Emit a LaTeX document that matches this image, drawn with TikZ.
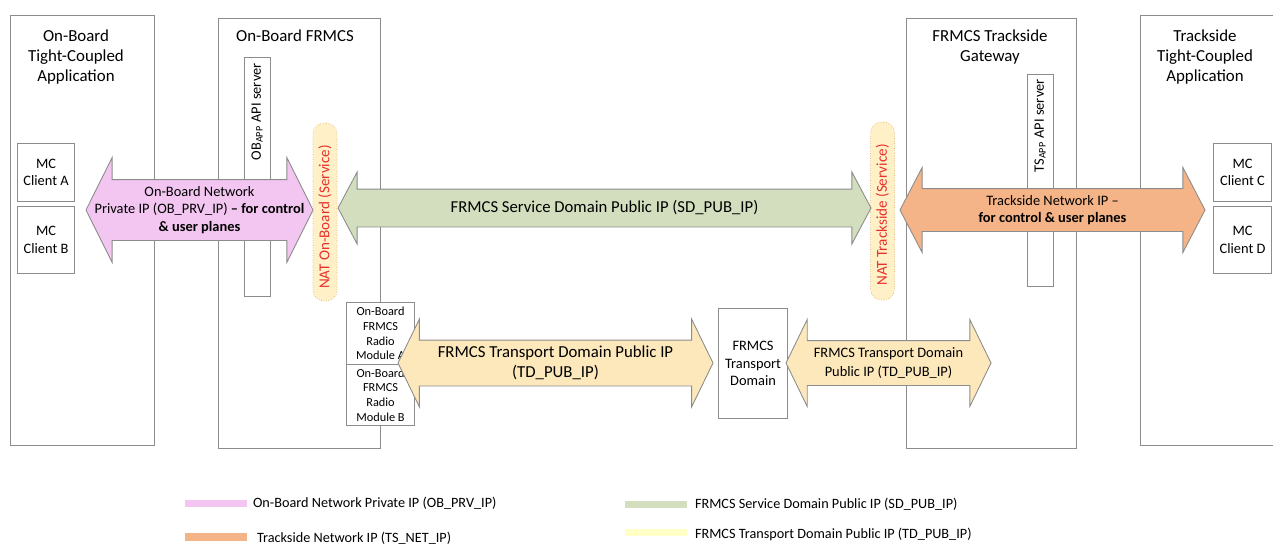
\documentclass[tikz,border=0pt]{standalone}
\usepackage{fontspec}
\setmainfont{Carlito}
\usetikzlibrary{shapes.arrows,positioning}

\definecolor{linegray}{HTML}{8C8C8C}
\definecolor{pinkip}{HTML}{F2C6F0}
\definecolor{greenip}{HTML}{D3DEBE}
\definecolor{orangeip}{HTML}{F5B487}
\definecolor{tanip}{HTML}{FDE8BC}
\definecolor{yellowip}{HTML}{FFFFC6}
\definecolor{natfill}{HTML}{FFF0C8}
\definecolor{natline}{HTML}{D9B870}
\definecolor{natred}{HTML}{E8302A}
\newcommand{\px}{0.02cm}

\begin{document}
\begin{tikzpicture}[x=0.02cm, y=-0.02cm,
  frame/.style={draw=linegray, line width=0.6pt, fill=white, anchor=north west, inner sep=0pt},
  title/.style={font=\fontsize{9.6}{11.6}\selectfont, align=center, anchor=north, inner sep=0pt},
  client/.style={frame, font=\fontsize{8.2}{10}\selectfont, align=center},
  module/.style={frame, font=\fontsize{7}{8.4}\selectfont, align=center},
  vtext/.style={font=\fontsize{8.2}{10}\selectfont, rotate=90, anchor=east, inner sep=0pt},
  nat/.style={draw=natline, densely dotted, fill=natfill, rounded corners=11*\px, inner sep=0pt, minimum width=24*\px, minimum height=178*\px},
  natlabel/.style={font=\fontsize{8.6}{10}\selectfont, text=natred, rotate=90, inner sep=0pt},
  ip/.style={double arrow, draw=linegray, line width=0.5pt, double arrow head indent=0pt, inner xsep=0pt, minimum width=0pt},
  iptext/.style 2 args={font=\fontsize{#1}{#2}\selectfont, align=center, inner sep=0pt},
  swatch/.style={inner sep=0pt, minimum width=62*\px, minimum height=7*\px, anchor=west},
  legtext/.style={font=\fontsize{8.1}{9}\selectfont, anchor=west, inner sep=0pt}]

\useasboundingbox (0,0) rectangle (1273,545);

% big boxes
\node[frame, minimum width=144*\px, minimum height=430*\px] (obapp) at (10,15) {};
\node[frame, minimum width=162*\px, minimum height=430*\px] (obfrmcs) at (218,18) {};
\node[frame, minimum width=170*\px, minimum height=430*\px] (tsgw) at (906,18) {};
\node[frame, minimum width=150*\px, minimum height=430*\px] (tsapp) at (1140,15) {};

\node[title] at (76,29) {On-Board\\Tight-Coupled\\Application};
\node[title] at (295,29) {On-Board FRMCS};
\node[title] at (990,29) {FRMCS Trackside\\Gateway};
\node[title] at (1205,29) {Trackside\\Tight-Coupled\\Application};

% clients
\node[client, minimum width=57*\px, minimum height=58*\px] (mca) at (17,143) {MC\\Client A};
\node[client, minimum width=57*\px, minimum height=67*\px] (mcb) at (17,206) {MC\\Client B};
\node[client, minimum width=58*\px, minimum height=58*\px] (mcc) at (1213,143) {MC\\Client C};
\node[client, minimum width=58*\px, minimum height=67*\px] (mcd) at (1213,206) {MC\\Client D};

% api servers
\node[frame, minimum width=26*\px, minimum height=239*\px] (obapi) at (244,57) {};
\node[vtext] at (257,63) {OB\textsubscript{APP} API server};
\node[frame, minimum width=26*\px, minimum height=212*\px] (tsapi) at (1027,74) {};
\node[vtext] at (1040,79) {TS\textsubscript{APP} API server};

% NAT
\node[nat] (natob) at (325,212) {};
\node[natlabel] at (325,217) {NAT On-Board (Service)};
\node[nat] (natts) at (882.5,211) {};
\node[natlabel] at (882.5,215) {NAT Trackside (Service)};

% radio modules and transport domain
\node[module, minimum width=68*\px, minimum height=62*\px] (rma) at (346,302) {On-Board\\FRMCS\\Radio\\Module A};
\node[module, minimum width=68*\px, minimum height=61*\px] (rmb) at (346,364) {On-Board\\FRMCS\\Radio\\Module B};
\node[client, minimum width=69*\px, minimum height=110*\px] (td) at (718,308) {FRMCS\\Transport\\Domain};

% block arrows
\node[ip, fill=pinkip, minimum height=227*\px, inner ysep=30*\px,
  double arrow head extend=22*\px, double arrow tip angle=127] (obnet) at (199.5,210) {};
\node[iptext={8.2}{10}] at (obnet) {On-Board Network\\Private IP (OB\_PRV\_IP) \textbf{-- for control}\\\textbf{\& user planes}};

\node[ip, fill=greenip, minimum height=533*\px, inner ysep=18.5*\px,
  double arrow head extend=17*\px, double arrow tip angle=124] (sdpub) at (604.5,208) {};
\node[iptext={9.5}{11}] at (sdpub) {FRMCS Service Domain Public IP (SD\_PUB\_IP)};

\node[ip, fill=orangeip, minimum height=305*\px, inner ysep=21*\px,
  double arrow head extend=21*\px, double arrow tip angle=125] (tsnet) at (1052.5,210) {};
\node[iptext={8.2}{10}] at (tsnet) {Trackside Network IP --\\\textbf{for control \& user planes}};

\node[ip, fill=tanip, minimum height=315*\px, inner ysep=22.5*\px,
  double arrow head extend=21*\px, double arrow tip angle=128] (tdpub1) at (555.5,363) {};
\node[iptext={9.55}{11.5}] at (tdpub1) {FRMCS Transport Domain Public IP\\(TD\_PUB\_IP)};

\node[ip, fill=tanip, minimum height=205*\px, inner ysep=22*\px,
  double arrow head extend=21*\px, double arrow tip angle=128] (tdpub2) at (888.5,363) {};
\node[iptext={8.2}{10.5}] at (tdpub2) {FRMCS Transport Domain\\Public IP (TD\_PUB\_IP)};

% legend
\node[swatch, fill=pinkip] (lgob) at (185,503) {};
\node[legtext, right=5*\px of lgob] {On-Board Network Private IP (OB\_PRV\_IP)};
\node[swatch, fill=orangeip, minimum height=8*\px] (lgts) at (185,537) {};
\node[legtext, right=9*\px of lgts, yshift=-1*\px] {Trackside Network IP (TS\_NET\_IP)};
\node[swatch, fill=greenip] (lgsd) at (625,504) {};
\node[legtext, right=7*\px of lgsd] {FRMCS Service Domain Public IP (SD\_PUB\_IP)};
\node[swatch, fill=yellowip] (lgtd) at (625,532) {};
\node[legtext, right=7*\px of lgtd, yshift=-2*\px] {FRMCS Transport Domain Public IP (TD\_PUB\_IP)};
\end{tikzpicture}
\end{document}
